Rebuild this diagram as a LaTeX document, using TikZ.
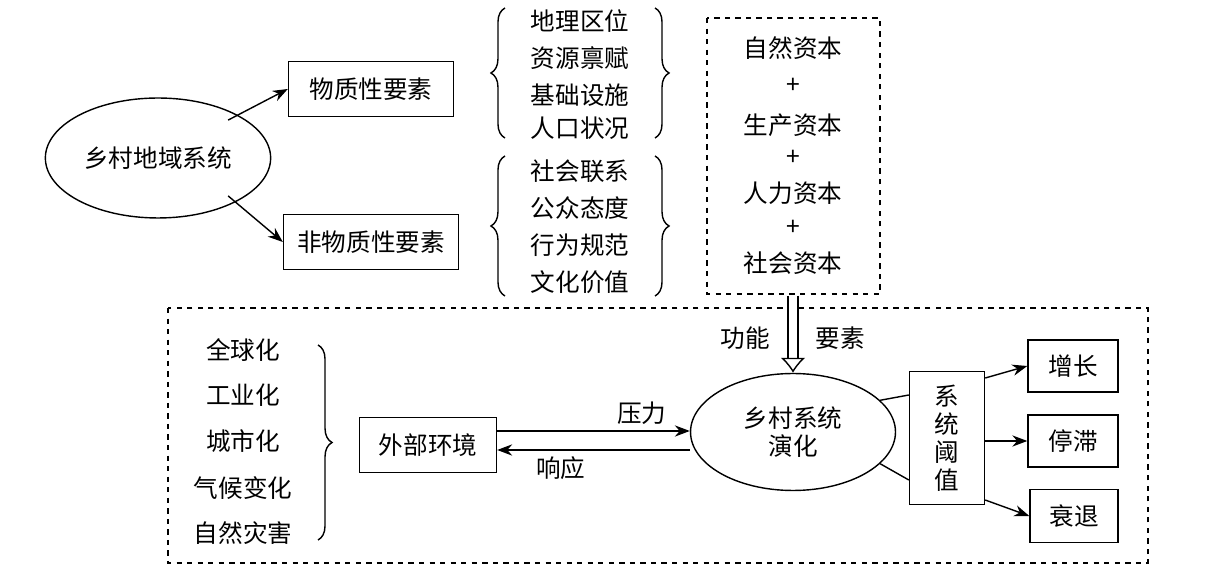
\documentclass[tikz,border=0pt]{standalone}
\usepackage{fontspec}
\setmainfont{Liberation Serif}
\newfontfamily\cjk{Noto Sans CJK SC}
\usetikzlibrary{arrows.meta, positioning, shapes.geometric, decorations.pathreplacing}

\tikzset{
  box/.style={draw, thick, minimum height=1.1cm, inner sep=4pt},
  oval/.style={draw, thick, ellipse},
  item/.style={inner sep=1pt},
  link/.style={thick, -{Stealth[length=3mm]}},
  brc/.style={thick, decorate, decoration={brace, amplitude=8pt}},
  dbox/.style={draw, thick, dashed}
}

\begin{document}
\begin{tikzpicture}[x=0.02cm, y=-0.02cm, font=\cjk\fontsize{14}{16}\selectfont]
        \useasboundingbox (0,0) rectangle (1207,573);
        % upper part
        \node[oval, minimum width=3.8cm, minimum height=2.4cm] (region) at (158,158) {乡村地域系统};
        \node[box, minimum width=3.3cm] (mat) at (371,89) {物质性要素};
        \node[box, minimum width=3.5cm] (immat) at (371,242) {非物质性要素};
        \draw[link] (region.north east) ++(-10,5) coordinate (r1) -- (mat.west);
        \draw[link] (region.south east) ++(-10,-5) coordinate (r2) -- (immat.west);
        \node[item] (m1) at (580,21) {地理区位};
        \node[item] (m2) at (580,58) {资源禀赋};
        \node[item] (m3) at (580,95) {基础设施};
        \node[item] (m4) at (580,128) {人口状况};
        \node[item] (n1) at (580,171) {社会联系};
        \node[item] (n2) at (580,208) {公众态度};
        \node[item] (n3) at (580,245) {行为规范};
        \node[item] (n4) at (580,282) {文化价值};
        \draw[brc] (505,138) -- (505,8);
        \draw[brc] (505,296) -- (505,156);
        \draw[brc] (655,8) -- (655,138);
        \draw[brc] (655,156) -- (655,296);
        \draw[dbox] (707,18) rectangle (880,294);
        \node (c1) at (793,48) {自然资本};
        \node (p1) at (793,86) {+};
        \node (c2) at (793,125) {生产资本};
        \node (p2) at (793,158) {+};
        \node (c3) at (793,193) {人力资本};
        \node (p3) at (793,228) {+};
        \node (c4) at (793,263) {社会资本};
        % lower part
        \draw[dbox] (168,308) rectangle (1148,563);
        \node[oval, minimum width=4.1cm, minimum height=2.34cm, align=center] (evo) at (793,432) {乡村系统\\演化};
        \coordinate (dtop) at (793,296);
        \draw[thick, double, double distance=5pt, -{Latex[open, length=3mm, width=5mm]}] (dtop) -- (evo.north);
        \node (fn) at (745,338) {功能};
        \node (fa) at (840,338) {要素};
        \node[box, minimum width=2.74cm] (env) at (428,445) {外部环境};
        \draw[link] (env.east |- 0,431) -- (evo.west |- 0,431) node[pos=0.75, above] {压力};
        \draw[link] (evo.west |- 0,450) -- (env.east |- 0,450) node[pos=0.67, below] {响应};
        \node[item] (e1) at (243,350) {全球化};
        \node[item] (e2) at (243,395) {工业化};
        \node[item] (e3) at (243,441) {城市化};
        \node[item] (e4) at (243,488) {气候变化};
        \node[item] (e5) at (243,533) {自然灾害};
        \draw[brc] (318,345) -- (318,540);
        \node[box, minimum width=1.5cm, minimum height=2.66cm, align=center, inner sep=2pt] (thr) at (947,438) {系\\统\\阈\\值};
        \draw[thick] (evo.20) -- (thr.west |- 0,395);
        \draw[thick] (evo.-20) -- (thr.west |- 0,480);
        \node[box, minimum width=1.8cm, minimum height=1.04cm] (grow) at (1073,366) {增长};
        \node[box, minimum width=1.8cm, minimum height=1.04cm] (stag) at (1073,441) {停滞};
        \node[box, minimum width=1.76cm, minimum height=1.06cm] (decl) at (1074,516) {衰退};
        \draw[link] (thr.east |- 0,378) -- (grow.west);
        \draw[link] (thr.east |- 0,441) -- (stag.west);
        \draw[link] (thr.east |- 0,500) -- (decl.west);
      \end{tikzpicture}
\end{document}
